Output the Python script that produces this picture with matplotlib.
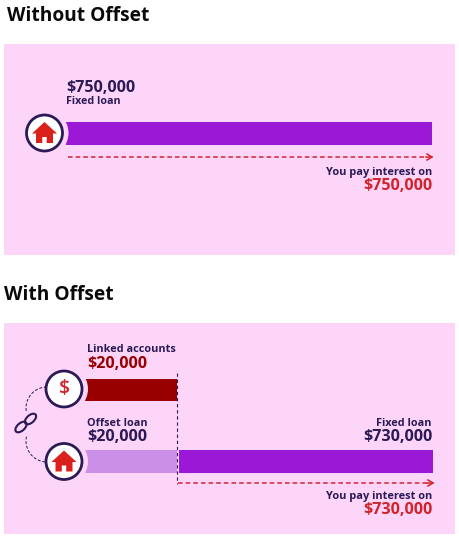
import matplotlib
matplotlib.use("Agg")
import matplotlib.pyplot as plt
from matplotlib.patches import Circle, Polygon, Rectangle, Ellipse
import numpy as np

W, H = 459, 541
plt.rcParams['font.family'] = ['Open Sans', 'DejaVu Sans']

# Data
fixed_without = [750000]
linked_accounts = [20000]
offset_loan = [20000]
fixed_with = [730000]
label_without = "$750,000"
label_linked = "$20,000"
label_offset = "$20,000"
label_fixed = "$730,000"

PINK = "#fcd5f9"; PURPLE = "#9b19d6"; LILAC = "#cb8fe8"; DARKRED = "#980000"
NAVY = "#2b1a55"; RED = "#d3232a"

fig = plt.figure(figsize=(W/100, H/100), dpi=100, facecolor="white")
bg = fig.add_axes([0, 0, 1, 1])
bg.set_xlim(0, W); bg.set_ylim(H, 0); bg.axis("off")

bg.add_patch(Rectangle((4, 44), 451, 211, fc=PINK, ec="none"))
bg.add_patch(Rectangle((4, 323), 451, 211, fc=PINK, ec="none"))

def bar_axes(x0, x1, ytop, ybot, xmax, vals, color):
    ax = fig.add_axes([x0/W, 1-ybot/H, (x1-x0)/W, (ybot-ytop)/H], zorder=2)
    ax.set_xlim(0, xmax); ax.set_ylim(-0.5, 0.5); ax.axis("off")
    ax.patch.set_alpha(0)
    ax.barh([0], vals, height=1, color=color, linewidth=0)
    return ax

bar_axes(66, 432, 122, 145, fixed_without[0], fixed_without, PURPLE)
bar_axes(85, 177, 379, 401, linked_accounts[0], linked_accounts, DARKRED)
bar_axes(85, 177, 450, 473, offset_loan[0], offset_loan, LILAC)
bar_axes(179, 433, 450, 473, fixed_with[0], fixed_with, PURPLE)

top = fig.add_axes([0, 0, 1, 1], zorder=3)
top.set_xlim(0, W); top.set_ylim(H, 0); top.axis("off"); top.patch.set_alpha(0)

def house(cx, cy, s=1.0, col="#d9201a"):
    pts = np.array([(0,-11),(12.5,0.5),(8.5,0.5),(8.5,10),(2.2,10),(2.2,4),(-2.2,4),(-2.2,10),(-8.5,10),(-8.5,0.5),(-12.5,0.5)])
    top.add_patch(Polygon(pts*s + [cx, cy], closed=True, fc=col, ec="none", zorder=6))

def badge(cx, cy, r=18):
    top.add_patch(Circle((cx, cy), r+6, fc=PINK, ec="none", zorder=4))
    top.add_patch(Circle((cx, cy), r, fc="white", ec=NAVY, lw=2.0, zorder=5))

badge(44.5, 133); house(44.5, 133)
badge(64, 389); top.text(64, 389, "$", color=RED, fontsize=14, fontweight="semibold", ha="center", va="center", zorder=6)
badge(64, 461.5); house(64, 461.5)

# Texts
def t(x, y, s, size, col, ha="left", w="bold"):
    top.text(x, y, s, fontsize=size, color=col, ha=ha, va="center", fontweight=w, zorder=7)

t(7, 16, "Without Offset", 13.8, "#0a0a0a")
t(4, 295, "With Offset", 13.8, "#0a0a0a")
t(66, 88, label_without, 11.6, NAVY)
t(66, 102, "Fixed loan", 7.7, NAVY)
t(432, 172, "You pay interest on", 7.9, NAVY, "right")
t(432, 186, label_without, 11.6, RED, "right")
t(87, 349, "Linked accounts", 7.8, NAVY)
t(87, 364, label_linked, 11.6, DARKRED)
t(87, 423, "Offset loan", 7.8, NAVY)
t(87, 437, label_offset, 11.6, NAVY)
t(432, 423, "Fixed loan", 7.8, NAVY, "right")
t(432, 437, label_fixed, 11.6, NAVY, "right")
t(432, 496, "You pay interest on", 7.9, NAVY, "right")
t(432, 510, label_fixed, 11.6, RED, "right")

# Dashed arrows
def dashed_arrow(x0, x1, y):
    top.plot([x0, x1-5], [y, y], color=RED, lw=1.1, dashes=(3, 2), zorder=6)
    top.plot([x1-5, x1, x1-5], [y-3, y, y+3], color=RED, lw=1.1, zorder=6)
    top.plot([x1-6, x1], [y, y], color=RED, lw=1.1, zorder=6)

dashed_arrow(68, 432, 157)
dashed_arrow(178, 433, 483)

# Vertical dashed divider
top.plot([177, 177], [373, 484], color=NAVY, lw=0.8, dashes=(3, 2.5), zorder=6)

# Connector arcs
a = np.radians(np.linspace(172, 268, 24))
top.plot(47+21*np.cos(a), 408+21*np.sin(a), color=NAVY, lw=0.7, dashes=(3, 1.8), zorder=6)
a = np.radians(np.linspace(95, 195, 24))
top.plot(47+21*np.cos(a), 441+21*np.sin(a), color=NAVY, lw=0.7, dashes=(3, 1.8), zorder=6)

# Chain link
for cx, cy in [(21, 427), (30.5, 419)]:
    top.add_patch(Ellipse((cx, cy), 13.5, 7.5, angle=-42, fc="none", ec=NAVY, lw=1.5, zorder=6))

fig.savefig("out.png", dpi=100, facecolor="white")
